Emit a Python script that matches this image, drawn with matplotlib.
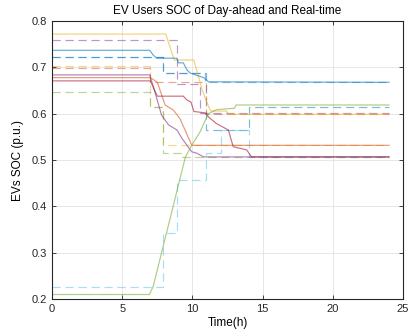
import matplotlib
matplotlib.use('Agg')
import matplotlib.pyplot as plt

plt.rcParams['font.family'] = ['Liberation Sans', 'DejaVu Sans']

# real-time SOC (solid), knots
rt_yellow_t = [0, 8.1, 8.7, 10.1, 10.7, 11.1, 11.3, 12.4, 12.6, 24]
rt_yellow_v = [0.772, 0.772, 0.716, 0.716, 0.651, 0.619, 0.606, 0.606, 0.599, 0.599]

rt_blue_t = [0, 6.95, 7.2, 7.45, 8.88, 9.0, 9.35, 9.6, 9.83, 10.8, 11.15, 24]
rt_blue_v = [0.737, 0.737, 0.727, 0.72, 0.72, 0.71, 0.71, 0.695, 0.688, 0.678, 0.669, 0.668]

rt_purple_t = [0, 6.95, 7.2, 7.8, 8.3, 8.9, 9.25, 9.95, 10.3, 10.8, 24]
rt_purple_v = [0.684, 0.684, 0.66, 0.597, 0.576, 0.565, 0.547, 0.518, 0.515, 0.507, 0.507]

rt_orange_t = [0, 7.0, 7.5, 8.05, 8.64, 9.1, 9.47, 9.95, 24]
rt_orange_v = [0.678, 0.678, 0.668, 0.619, 0.608, 0.59, 0.565, 0.532, 0.532]

rt_red_t = [0, 7.0, 7.5, 9.35, 9.6, 9.9, 10.1, 10.9, 11.15, 11.7, 12.56, 12.9, 13.87, 14.2, 24]
rt_red_v = [0.671, 0.671, 0.638, 0.638, 0.63, 0.625, 0.605, 0.602, 0.593, 0.579, 0.565, 0.529, 0.522, 0.507, 0.507]

rt_green_t = [0, 6.93, 7.2, 9.5, 9.95, 10.54, 11.13, 11.73, 13.0, 13.1, 24]
rt_green_v = [0.21, 0.21, 0.227, 0.507, 0.532, 0.561, 0.60, 0.609, 0.612, 0.619, 0.619]

# day-ahead SOC (dashed)
da_purple_t = [0, 8.9, 8.9, 10.55, 10.55, 24]
da_purple_v = [0.759, 0.759, 0.664, 0.664, 0.601, 0.601]

da_blue_t = [0, 7.93, 7.93, 10.9, 10.9, 24]
da_blue_v = [0.723, 0.723, 0.687, 0.687, 0.668, 0.668]

da_blue2_t = [0, 7.93, 7.93, 11.0, 11.0, 14.0, 14.0, 24]
da_blue2_v = [0.723, 0.723, 0.687, 0.687, 0.566, 0.566, 0.615, 0.615]

da_yellow_t = [0, 6.98, 6.98, 7.9, 7.9, 24]
da_yellow_v = [0.704, 0.704, 0.615, 0.615, 0.532, 0.532]

da_orange_t = [0, 7.0, 7.0, 11.0, 11.0, 24]
da_orange_v = [0.698, 0.698, 0.668, 0.668, 0.600, 0.600]

da_green_t = [0, 6.98, 6.98, 7.9, 7.9, 9.2, 9.2, 24]
da_green_v = [0.648, 0.648, 0.615, 0.615, 0.515, 0.515, 0.507, 0.507]

da_lblue_t = [0, 7.93, 7.93, 8.9, 8.9, 10.95, 10.95, 12.0, 12.0, 14.0, 14.0, 24]
da_lblue_v = [0.227, 0.227, 0.342, 0.342, 0.457, 0.457, 0.516, 0.516, 0.566, 0.566, 0.507, 0.507]

x_ticks = [0, 5, 10, 15, 20, 25]
y_ticks = [0.2, 0.3, 0.4, 0.5, 0.6, 0.7, 0.8]

c_blue = '#0072BD'
c_orange = '#D95319'
c_yellow = '#EDB120'
c_purple = '#7E2F8E'
c_green = '#77AC30'
c_lblue = '#4DBEEE'
c_red = '#A2142F'

fig = plt.figure(figsize=(4.1, 3.35), dpi=100)
ax = fig.add_axes([0.127, 0.107, 0.856, 0.830])

al = 0.6
da_al = 0.5
lw = 0.85
dash = (0, (7, 4))
ax.plot(da_purple_t, da_purple_v, color=c_purple, lw=lw, alpha=da_al, linestyle=dash)
ax.plot(da_blue2_t, da_blue2_v, color=c_blue, lw=lw, alpha=da_al, linestyle=dash)
ax.plot(da_blue_t, da_blue_v, color=c_blue, lw=lw, alpha=0.4, linestyle=dash)
ax.plot(da_yellow_t, da_yellow_v, color=c_yellow, lw=lw, alpha=da_al, linestyle=dash)
ax.plot(da_orange_t, da_orange_v, color=c_orange, lw=lw, alpha=da_al, linestyle=dash)
ax.plot(da_green_t, da_green_v, color=c_green, lw=lw, alpha=da_al, linestyle=dash)
ax.plot(da_lblue_t, da_lblue_v, color=c_lblue, lw=lw, alpha=da_al, linestyle=dash)

ax.plot(rt_yellow_t, rt_yellow_v, color=c_yellow, lw=lw, alpha=al)
ax.plot(rt_blue_t, rt_blue_v, color=c_blue, lw=lw, alpha=al)
ax.plot(rt_purple_t, rt_purple_v, color=c_purple, lw=lw, alpha=al)
ax.plot(rt_orange_t, rt_orange_v, color=c_orange, lw=lw, alpha=al)
ax.plot(rt_red_t, rt_red_v, color=c_red, lw=lw, alpha=al)
ax.plot(rt_green_t, rt_green_v, color=c_green, lw=lw, alpha=al)

ax.set_xlim(0, 25)
ax.set_ylim(0.2, 0.8)
ax.set_xticks(x_ticks)
ax.set_yticks(y_ticks)
ax.set_yticklabels(['%.1f' % v for v in y_ticks])
ax.grid(True, color='#e3e3e3', lw=0.6)
ax.set_axisbelow(True)
ax.tick_params(direction='in', length=3, width=0.6, labelsize=8,
               top=True, right=True, colors='#262626')
for s in ax.spines.values():
    s.set_linewidth(0.8)
    s.set_color('#262626')

ax.set_title('EV Users SOC of Day-ahead and Real-time', fontsize=8.5, pad=5)
ax.set_xlabel('Time(h)', fontsize=8.5, labelpad=2)
ax.set_ylabel('EVs SOC (p.u.)', fontsize=8.5, labelpad=6)

fig.savefig('out.png', dpi=100)
